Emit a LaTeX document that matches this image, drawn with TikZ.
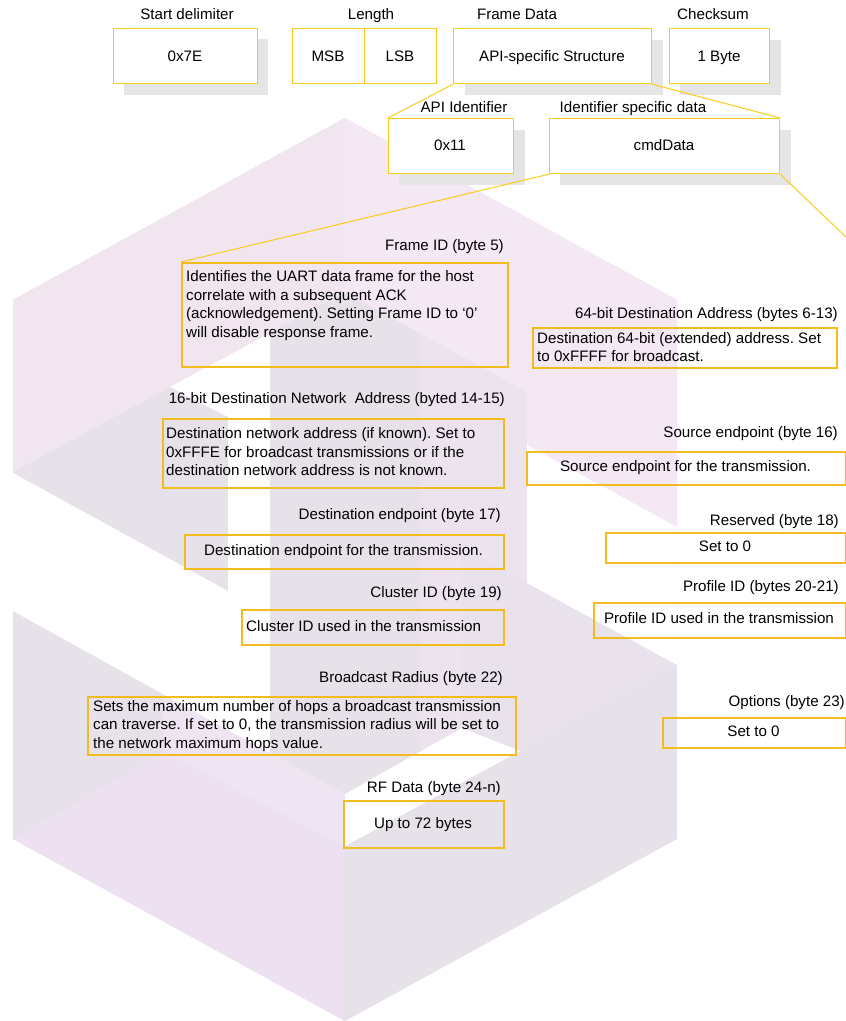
\documentclass[tikz,border=0pt]{standalone}
\usepackage{fontspec}
\setmainfont{Liberation Sans}
\frenchspacing
\definecolor{topgold}{RGB}{250,204,24}
\definecolor{boxgold}{RGB}{242,188,30}
\definecolor{shadowgrey}{RGB}{229,229,229}
\definecolor{pinkA}{RGB}{241,230,240}
\definecolor{pinkB}{RGB}{245,232,245}
\definecolor{pinkQ}{RGB}{237,227,239}
\definecolor{lavG}{RGB}{231,225,234}
\definecolor{lavH}{RGB}{233,226,236}
\definecolor{lavL}{RGB}{237,224,241}
\definecolor{lavM}{RGB}{239,229,242}
\tikzset{
  txt/.style={inner sep=0pt, font=\fontsize{15.15}{18.6}\selectfont},
  topbox/.style={draw=topgold, line width=1.2pt, fill=white},
  shadowbox/.style={fill=shadowgrey, draw=none},
  detbox/.style={draw=boxgold, line width=2pt},
  link/.style={draw=topgold, line width=1pt},
}
\begin{document}
\begin{tikzpicture}[x=1pt,y=-1pt]
\useasboundingbox (0,0) rectangle (846,1021);
% ---------- background watermark ----------
\fill[lavG] (345,118) -- (677,300) -- (677,839) -- (345,1021) -- (13,839) -- (13,300) -- cycle;
\fill[lavL] (13,839) -- (163,752) -- (345,846) -- (345,1021) -- cycle;
\fill[lavM] (163,693) -- (345,794) -- (345,846) -- (163,752) -- cycle;
\fill[pinkQ] (420,333) -- (527,392) -- (527,583) -- (462,547) -- (462,728) -- (420,751) -- cycle;
\fill[lavH] (677,665) -- (520,751) -- (462,728) -- (462,547) -- cycle;
\fill[pinkA] (345,118) -- (345,292) -- (13,472) -- (13,300) -- cycle;
\fill[pinkB] (345,118) -- (677,300) -- (677,527) -- (527,445) -- (527,392) -- (345,292) -- cycle;
\fill[white] (170,387) -- (270,333) -- (270,753) -- (228,730) -- (13,611) -- (13,473) -- (228,591) -- (228,417) -- cycle;
\fill[white] (527,445) -- (677,527) -- (677,665) -- (527,583) -- cycle;
\fill[white] (345,794) -- (462,728) -- (520,751) -- (345,846) -- cycle;
% ---------- top row ----------
\fill[shadowbox] (124,39) rectangle (268,95);
\node[topbox, minimum width=144pt, minimum height=55pt, anchor=north west] (sd) at (113,28) {};
\node[txt, anchor=base] (sdt) at (185,61.5) {0x7E};
\node[txt, anchor=base] (sdl) at (187,19) {Start delimiter};

\node[topbox, minimum width=72pt, minimum height=55pt, anchor=north west] (msb) at (292,28) {};
\node[topbox, minimum width=72pt, minimum height=55pt, anchor=north west] (lsb) at (364,28) {};
\node[txt, anchor=base] (msbt) at (328,61.5) {MSB};
\node[txt, anchor=base] (lsbt) at (400,61.5) {LSB};
\node[txt, anchor=base] (lenl) at (371,19) {Length};

\fill[shadowbox] (465,40) rectangle (663,95);
\node[topbox, minimum width=198pt, minimum height=55pt, anchor=north west] (fd) at (453,28) {};
\node[txt, anchor=base] (fdt) at (552,61.5) {API-specific Structure};
\node[txt, anchor=base] (fdl) at (517,19) {Frame Data};

\fill[shadowbox] (680,40) rectangle (781,95);
\node[topbox, minimum width=100pt, minimum height=55pt, anchor=north west] (cs) at (669,28) {};
\node[txt, anchor=base] (cst) at (719,61.5) {1 Byte};
\node[txt, anchor=base] (csl) at (713,19) {Checksum};

% ---------- second row ----------
\fill[shadowbox] (399,130) rectangle (525,185);
\node[topbox, minimum width=125pt, minimum height=55pt, anchor=north west] (api) at (388,118) {};
\node[txt, anchor=base] (apit) at (450,150) {0x11};
\node[txt, anchor=base] (apil) at (464,112) {API Identifier};

\fill[shadowbox] (560,130) rectangle (791,185);
\node[topbox, minimum width=230pt, minimum height=55pt, anchor=north west] (isd) at (549,118) {};
\node[txt, anchor=base] (isdt) at (664,150) {cmdData};
\node[txt, anchor=base] (isdl) at (633,112) {Identifier specific data};

\coordinate (offright) at (846,237);

% ---------- detail boxes ----------
\node[detbox, minimum width=326pt, minimum height=104pt, anchor=north west] (fid) at (181,262) {};
\node[txt, anchor=base east] (fidl) at (504,250.5) {Frame ID (byte 5)};
\node[txt, anchor=base west] at (186,281.7) {Identifies the UART data frame for the host};
\node[txt, anchor=base west] at (186,300.3) {correlate with a subsequent ACK};
\node[txt, anchor=base west] at (186,318.9) {(acknowledgement). Setting Frame ID to ‘0’};
\node[txt, anchor=base west] at (186,337.5) {will disable response frame.};

\node[detbox, minimum width=304pt, minimum height=40pt, anchor=north west] (d64) at (532,327) {};
\node[txt, anchor=base east] (d64l) at (838,318) {64-bit Destination Address (bytes 6-13)};
\node[txt, anchor=base west] at (537,343.5) {Destination 64-bit (extended) address. Set};
\node[txt, anchor=base west] at (537,361.5) {to 0xFFFF for broadcast.};

\node[detbox, minimum width=341pt, minimum height=69pt, anchor=north west] (d16) at (162,418) {};
\node[txt, anchor=base east] (d16l) at (505,403.5) {16-bit Destination Network\ \ Address (byted 14-15)};
\node[txt, anchor=base west] at (166,438.3) {Destination network address (if known). Set to};
\node[txt, anchor=base west] at (166,457) {0xFFFE for broadcast transmissions or if the};
\node[txt, anchor=base west] at (166,475.7) {destination network address is not known.};

\node[detbox, minimum width=319pt, minimum height=33pt, anchor=north west] (sep) at (526,451) {};
\node[txt, anchor=base east] (sepl) at (838,437.5) {Source endpoint (byte 16)};
\node[txt, anchor=base] at (685.5,471.7) {Source endpoint for the transmission.};

\node[detbox, minimum width=319pt, minimum height=34pt, anchor=north west] (dep) at (184,534) {};
\node[txt, anchor=base east] (depl) at (501,519.5) {Destination endpoint (byte 17)};
\node[txt, anchor=base] at (343.5,555.7) {Destination endpoint for the transmission.};

\node[detbox, minimum width=240pt, minimum height=30pt, anchor=north west] (res) at (605,532) {};
\node[txt, anchor=base east] (resl) at (839,525.5) {Reserved (byte 18)};
\node[txt, anchor=base] at (725,551.7) {Set to 0};

\node[detbox, minimum width=252pt, minimum height=35pt, anchor=north west] (prof) at (593,602) {};
\node[txt, anchor=base east] (profl) at (839,591) {Profile ID (bytes 20-21)};
\node[txt, anchor=base] at (719,623.3) {Profile ID used in the transmission};

\node[detbox, minimum width=262pt, minimum height=35pt, anchor=north west] (clu) at (241,609) {};
\node[txt, anchor=base east] (clul) at (502,597) {Cluster ID (byte 19)};
\node[txt, anchor=base west] at (246,631) {Cluster ID used in the transmission};

\node[detbox, minimum width=428pt, minimum height=58pt, anchor=north west] (brd) at (87,696) {};
\node[txt, anchor=base east] (brdl) at (503,682) {Broadcast Radius (byte 22)};
\node[txt, anchor=base west] at (93,711) {Sets the maximum number of hops a broadcast transmission};
\node[txt, anchor=base west] at (93,729.5) {can traverse. If set to 0, the transmission radius will be set to};
\node[txt, anchor=base west] at (93,748) {the network maximum hops value.};

\node[detbox, minimum width=183pt, minimum height=30pt, anchor=north west] (opt) at (662,717) {};
\node[txt, anchor=base east] (optl) at (845,706) {Options (byte 23)};
\node[txt, anchor=base] at (753.5,736.7) {Set to 0};

\node[detbox, minimum width=160pt, minimum height=47pt, anchor=north west] (rf) at (343,800) {};
\node[txt, anchor=base east] (rfl) at (501,792.5) {RF Data (byte 24-n)};
\node[txt, anchor=base] at (423,828) {Up to 72 bytes};

% ---------- connectors ----------
\draw[link] (fd.south west) -- (api.north west);
\draw[link] (fd.south east) -- (isd.north east);
\draw[link] (isd.south west) -- (fid.north west);
\draw[link] (isd.south east) -- (offright);
\end{tikzpicture}
\end{document}
